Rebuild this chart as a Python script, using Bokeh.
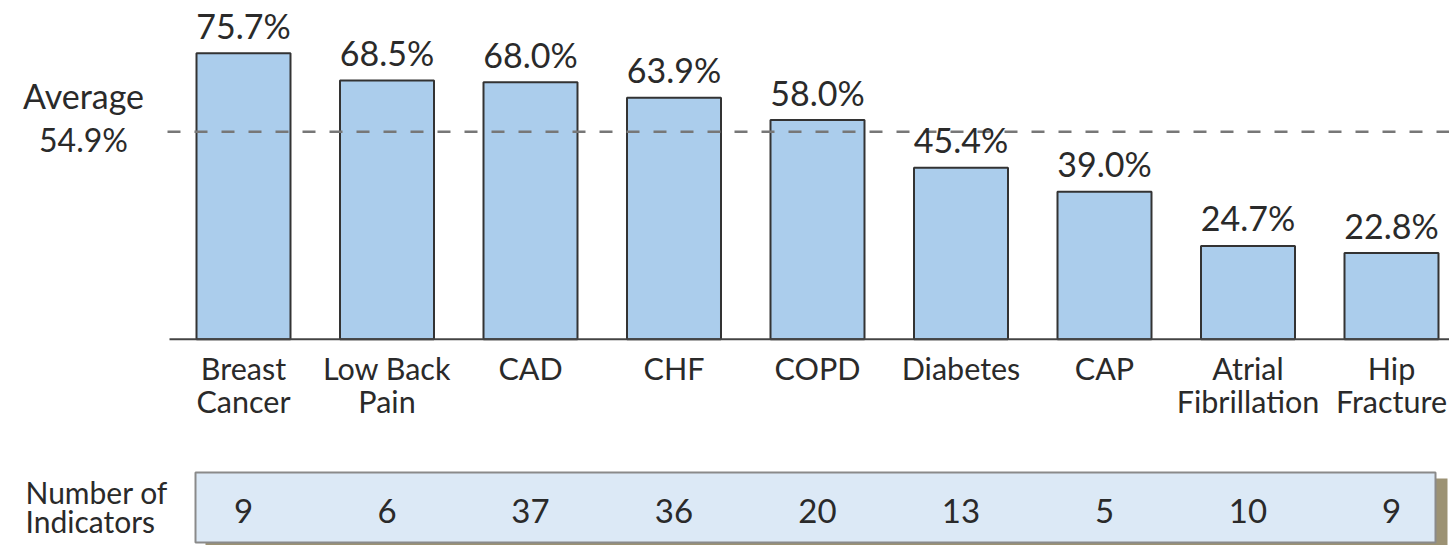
from bokeh.plotting import figure
from bokeh.models import Range1d
from bokeh.core.properties import value
from bokeh.embed import file_html
from bokeh.resources import INLINE

# ---- data ----
categories = ["Breast\nCancer", "Low Back\nPain", "CAD", "CHF", "COPD",
              "Diabetes", "CAP", "Atrial\nFibrillation", "Hip\nFracture"]
percent = [75.7, 68.5, 68.0, 63.9, 58.0, 45.4, 39.0, 24.7, 22.8]
indicators = [9, 6, 37, 36, 20, 13, 5, 10, 9]
average = 54.9
indicator_title = "Number of\nIndicators"

# ---- layout (pixels) ----
W, H = 1449, 545
X0_PX, STEP_PX = 243.0, 143.5       # pixel of first category centre, spacing
BASE_PX, UNIT_PX = 338.7, 3.778     # pixel row of 0 %, px per percent
FIX = -12                           # baseline correction for text rendering

def xd(px):
    return (px - X0_PX) / STEP_PX

def yd(py):
    return (BASE_PX - py) / UNIT_PX

FONT = value("Lato")
TXT = "#2a2a2a"

p = figure(width=W, height=H, output_backend="svg", toolbar_location=None,
           x_range=Range1d(xd(0), xd(W)), y_range=Range1d(yd(H), yd(0)),
           x_axis_location=None, y_axis_location=None, min_border=0)
p.outline_line_color = None
p.grid.visible = False
p.background_fill_color = "white"
p.border_fill_color = "white"

idx = list(range(len(categories)))

# bars
p.vbar(x=idx, top=percent, bottom=0, width=0.655, fill_color="#abcdec",
       line_color="#333333", line_width=2)

# baseline axis line
p.segment(x0=[xd(169)], y0=[0], x1=[xd(W)], y1=[0], line_color="#444444", line_width=2)

# average dashed line
p.segment(x0=[xd(167)], y0=[average], x1=[xd(W)], y1=[average],
          line_color="#777777", line_width=2.5, line_dash="13 14")

# value labels
p.text(x=idx, y=percent, text=[f"{v:.1f}%" for v in percent], y_offset=-16 + FIX,
       text_align="center", text_baseline="alphabetic", text_font=FONT,
       text_font_size="34px", text_color=TXT)

# category labels (two lines)
line1 = [c.split("\n")[0] for c in categories]
line2 = [c.split("\n")[1] if "\n" in c else "" for c in categories]
p.text(x=idx, y=[0] * len(idx), text=line1, y_offset=41 + FIX, text_align="center",
       text_baseline="alphabetic", text_font=FONT, text_font_size="30.5px", text_color=TXT)
p.text(x=idx, y=[0] * len(idx), text=line2, y_offset=74 + FIX, text_align="center",
       text_baseline="alphabetic", text_font=FONT, text_font_size="30.5px", text_color=TXT)

# average label
p.text(x=[xd(83)], y=[yd(107)], text=["Average"], y_offset=FIX, text_align="center",
       text_baseline="alphabetic", text_font=FONT, text_font_size="34px", text_color=TXT)
p.text(x=[xd(83)], y=[yd(151)], text=[f"{average:.1f}%"], y_offset=FIX, text_align="center",
       text_baseline="alphabetic", text_font=FONT, text_font_size="32px", text_color=TXT)

# indicators box with shadow
p.quad(left=[xd(205)], right=[xd(1447)], top=[yd(478)], bottom=[yd(545)],
       fill_color="#9c9274", line_color=None)
p.quad(left=[xd(195)], right=[xd(1435)], top=[yd(472)], bottom=[yd(542)],
       fill_color="#dce9f6", line_color="#8a8a8a", line_width=2)
p.text(x=idx, y=[yd(522)] * len(idx), text=[str(n) for n in indicators], y_offset=FIX,
       text_align="center", text_baseline="alphabetic", text_font=FONT,
       text_font_size="33px", text_color=TXT)

t1, t2 = indicator_title.split("\n")
p.text(x=[xd(25)], y=[yd(503)], text=[t1], y_offset=FIX, text_align="left",
       text_baseline="alphabetic", text_font=FONT, text_font_size="30px", text_color=TXT)
p.text(x=[xd(25)], y=[yd(532)], text=[t2], y_offset=FIX, text_align="left",
       text_baseline="alphabetic", text_font=FONT, text_font_size="30px", text_color=TXT)

open("out.html", "w").write(file_html(p, INLINE))
